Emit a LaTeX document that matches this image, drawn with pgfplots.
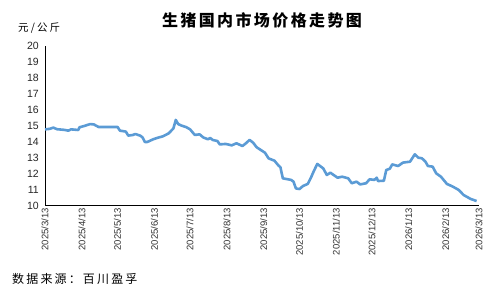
\documentclass[border=0pt]{standalone}
\usepackage{fontspec}
\setmainfont{Liberation Sans}
\newfontfamily\cjk{Noto Sans CJK SC}
\usepackage{pgfplots}
\pgfplotsset{compat=1.18}
\definecolor{line}{RGB}{91,155,213}
\begin{document}
\begin{tikzpicture}
\begin{axis}[
  scale only axis, width=434pt, height=160pt,
  xmin=0, xmax=365, ymin=10, ymax=20,
  axis x line=bottom, axis y line=left,
  axis line style={-, black, line width=1pt},
  major tick length=0pt,
  ytick={10,11,...,20},
  xtick={0,31,61,92,122,153,184,214,245,275,306,337,365},
  xticklabels={2025/3/13,2025/4/13,2025/5/13,2025/6/13,2025/7/13,2025/8/13,2025/9/13,2025/10/13,2025/11/13,2025/12/13,2026/1/13,2026/2/13,2026/3/13},
  x tick label style={rotate=90, anchor=east, font=\fontsize{9.5}{10}\selectfont, text=black!80, inner sep=2pt},
  y tick label style={font=\fontsize{10.5}{11}\selectfont, text=black!85, inner sep=2pt, xshift=-4pt},
  /pgf/number format/assume math mode=true,
  clip=false,
]
\addplot[line, line width=2.6pt, line join=round] coordinates {
(0,14.79) (4,14.82) (7,14.90) (10,14.80) (16,14.76) (19.6,14.71) (22,14.79) (28,14.75) (29,14.92) (33,15.00) (38,15.12) (41,15.10) (45,14.94) (55,14.94) (61,14.94)
(63,14.71) (68,14.65) (70,14.40) (74,14.44) (76,14.50) (80,14.40) (82,14.29) (84,14.00) (86,14.00) (91,14.17) (95,14.27) (99,14.35) (104,14.54) (108,14.85) (110,15.38)
(112,15.12) (115,15.02) (119,14.92) (122,14.79) (126,14.44) (130,14.48) (133,14.29) (137,14.17) (139,14.25) (141,14.13) (145,14.06) (147,13.85) (152,13.88) (157,13.79)
(161,13.92) (166,13.75) (169,13.92) (172,14.13) (175,13.96) (178,13.67) (185,13.33) (188,12.98) (193,12.83) (196,12.56) (198,12.42) (200,11.73) (207,11.63) (209,11.52)
(211,11.10) (214,11.06) (217,11.25) (221,11.38) (224,11.83) (226,12.17) (229,12.63) (234,12.35) (237,11.94) (240,12.08) (246,11.77) (250,11.83) (255,11.73) (258,11.42)
(262,11.52) (265,11.35) (270,11.42) (273,11.67) (277,11.63) (279,11.77) (280,11.56) (285,11.58) (287,12.25) (290,12.33) (292,12.60) (297,12.50) (301,12.71) (307,12.77)
(311,13.23) (314,13.02) (317,12.98) (320,12.77) (322,12.50) (326,12.46) (329,12.04) (333,11.83) (338,11.38) (343,11.21) (348,11.00) (352,10.69) (358,10.44) (363,10.31)
};
\end{axis}
% picture frame: axis box origin at (0,0); page spans (-45pt,-85pt) to (450pt,206pt)
\node[font=\cjk\bfseries\fontsize{16}{16}\selectfont\addfontfeature{LetterSpace=15}] at (217pt,186pt) {生猪国内市场价格走势图};
\node[anchor=west,inner sep=0pt,font=\cjk\fontsize{10.5}{11}\selectfont\addfontfeature{LetterSpace=20}] at (-27pt,178pt) {元/公斤};
\node[anchor=west,inner sep=0pt,font=\cjk\fontsize{12}{12}\selectfont\addfontfeature{LetterSpace=18}] at (-33pt,-73pt) {数据来源：百川盈孚};
\pgfresetboundingbox
\path[use as bounding box] (-45pt,-85pt) rectangle (450pt,206pt);
\end{tikzpicture}
\end{document}
